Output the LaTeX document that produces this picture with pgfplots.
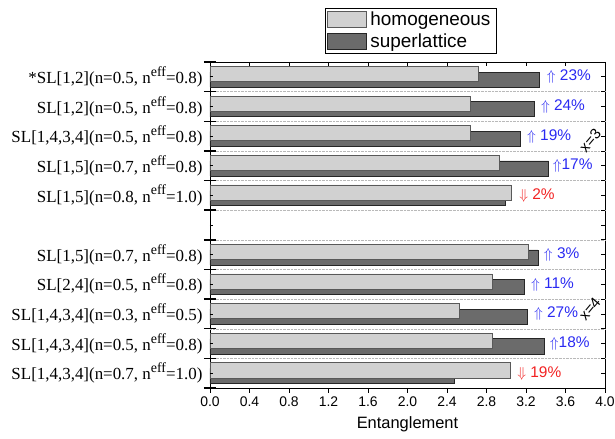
\documentclass[border=0pt]{standalone}
\usepackage{pgfplots}
\pgfplotsset{compat=1.18}
\usepackage{fontspec}
\setmainfont{Liberation Sans}
\newfontfamily\tnr{Liberation Serif}

\definecolor{lightbar}{HTML}{D1D1D1}
\definecolor{darkbar}{HTML}{6B6B6B}
\definecolor{upblue}{HTML}{2A2AF2}
\definecolor{downred}{HTML}{F22222}

\newcommand{\neff}{n\raisebox{0.42em}{\fontsize{14}{14}\selectfont eff}}

% y = slot position, top slot is 10, slot 5 is the empty gap
\pgfplotstableread{
y  hom  sup
10 2.72 3.34
9  2.64 3.28
8  2.64 3.14
7  2.93 3.43
6  3.05 2.99
4  3.22 3.32
3  2.86 3.18
2  2.53 3.21
1  2.86 3.39
0  3.04 2.47
}\entdata

\begin{document}
\begin{tikzpicture}
\begin{axis}[
  scale only axis, width=395bp, height=326bp,
  xmin=0, xmax=4, ymin=-0.5, ymax=10.5,
  xbar, bar width=0.51,
  clip=false,
  xtick={0,0.4,0.8,1.2,1.6,2.0,2.4,2.8,3.2,3.6,4.0},
  ytick={0,1,2,3,4,5,6,7,8,9,10},
  yticklabels={
    {SL[1,4,3,4](n=0.7, \neff=1.0)},
    {SL[1,4,3,4](n=0.5, \neff=0.8)},
    {SL[1,4,3,4](n=0.3, \neff=0.5)},
    {SL[2,4](n=0.5, \neff=0.8)},
    {SL[1,5](n=0.7, \neff=0.8)},
    {},
    {SL[1,5](n=0.8, \neff=1.0)},
    {SL[1,5](n=0.7, \neff=0.8)},
    {SL[1,4,3,4](n=0.5, \neff=0.8)},
    {SL[1,2](n=0.5, \neff=0.8)},
    {*SL[1,2](n=0.5, \neff=0.8)}},
  major tick length=0pt, minor tick length=0pt,
  xtick pos=bottom, ytick pos=left,
  yticklabel style={font=\tnr\fontsize{17}{18}\selectfont, xshift=-4bp},
  xticklabel style={font=\fontsize{14}{16}\selectfont, yshift=-5bp},
  /pgf/number format/.cd, fixed, fixed zerofill, precision=1, assume math mode=true,
  /pgfplots/.cd,
  xlabel={Entanglement},
  xlabel style={font=\fontsize{16.5}{18}\selectfont, yshift=-3bp},
  extra y ticks={0.5,1.5,2.5,3.5,4.5,5.5,6.5,7.5,8.5,9.5},
  extra y tick labels={},
  extra y tick style={grid=major, major grid style={gray!55, densely dotted}},
  axis line style={black, line width=0.8pt},
  reverse legend,
  legend style={at={(rel axis cs:0.291,1.166)}, anchor=north west,
    draw=black, line width=0.6pt, font=\fontsize{19}{21}\selectfont,
    inner xsep=2bp, inner ysep=2bp, row sep=2.5bp,
    nodes={inner xsep=3.5bp, inner ysep=2bp}},
  legend cell align=left,
  legend image code/.code={\draw[#1] (0bp,-8bp) rectangle (39bp,8bp);},
]
\addplot[fill=darkbar, draw=black!85, line width=0.7pt, bar shift=-0.095]
  table[x=sup, y=y] {\entdata};
\addlegendentry{superlattice}
\addplot[fill=lightbar, draw=black!65, line width=0.7pt, bar shift=0.095]
  table[x=hom, y=y] {\entdata};
\addlegendentry{homogeneous}

% ticks
\pgfplotsinvokeforeach{0,0.4,0.8,1.2,1.6,2.0,2.4,2.8,3.2,3.6,4.0}{
  \draw[line width=0.7pt] (axis cs:#1,-0.5) -- ++(0bp,-5bp);
  \draw[line width=0.7pt] (axis cs:#1,10.5) -- ++(0bp,-4bp);
}
\pgfplotsinvokeforeach{-0.5,0.5,1.5,2.5,3.5,4.5,5.5,6.5,7.5,8.5,9.5,10.5}{
  \draw[line width=1.4pt] ([xshift=-6bp]axis cs:0,#1) -- ([xshift=6bp]axis cs:0,#1);
  \draw[line width=0.7pt] (axis cs:4,#1) -- ([xshift=-4bp]axis cs:4,#1);
}
\pgfplotsinvokeforeach{0,1,2,3,4,5,6,7,8,9,10}{
  \draw[line width=0.7pt] (axis cs:0,#1) -- ([xshift=3bp]axis cs:0,#1);
  \draw[line width=0.7pt] (axis cs:4,#1) -- ([xshift=-4bp]axis cs:4,#1);
}

% changes
\begin{scope}[every node/.style={anchor=west, inner sep=0pt, font=\fontsize{15.5}{17}\selectfont}]
\node[text=upblue] at (axis cs:3.41,10) {$\Uparrow$ 23\%};
\node[text=upblue] at (axis cs:3.35,9) {$\Uparrow$ 24\%};
\node[text=upblue] at (axis cs:3.21,8) {$\Uparrow$ 19\%};
\node[text=upblue] at (axis cs:3.47,7) {$\Uparrow$17\%};
\node[text=downred] at (axis cs:3.13,6) {$\Downarrow$ 2\%};
\node[text=upblue] at (axis cs:3.38,4) {$\Uparrow$ 3\%};
\node[text=upblue] at (axis cs:3.25,3) {$\Uparrow$ 11\%};
\node[text=upblue] at (axis cs:3.28,2) {$\Uparrow$ 27\%};
\node[text=upblue] at (axis cs:3.44,1) {$\Uparrow$18\%};
\node[text=downred] at (axis cs:3.11,0) {$\Downarrow$ 19\%};
\end{scope}
\node[rotate=50, inner sep=0pt, font=\fontsize{15}{17}\selectfont] at (axis cs:3.85,7.85) {x=3};
\node[rotate=50, inner sep=0pt, font=\fontsize{15}{17}\selectfont] at (axis cs:3.845,2.17) {x=4};
\end{axis}
\pgfresetboundingbox
\path[use as bounding box] ([xshift=-210bp,yshift=-51bp]current axis.south west)
  rectangle ([xshift=10bp,yshift=62bp]current axis.north east);
\end{tikzpicture}
\end{document}
